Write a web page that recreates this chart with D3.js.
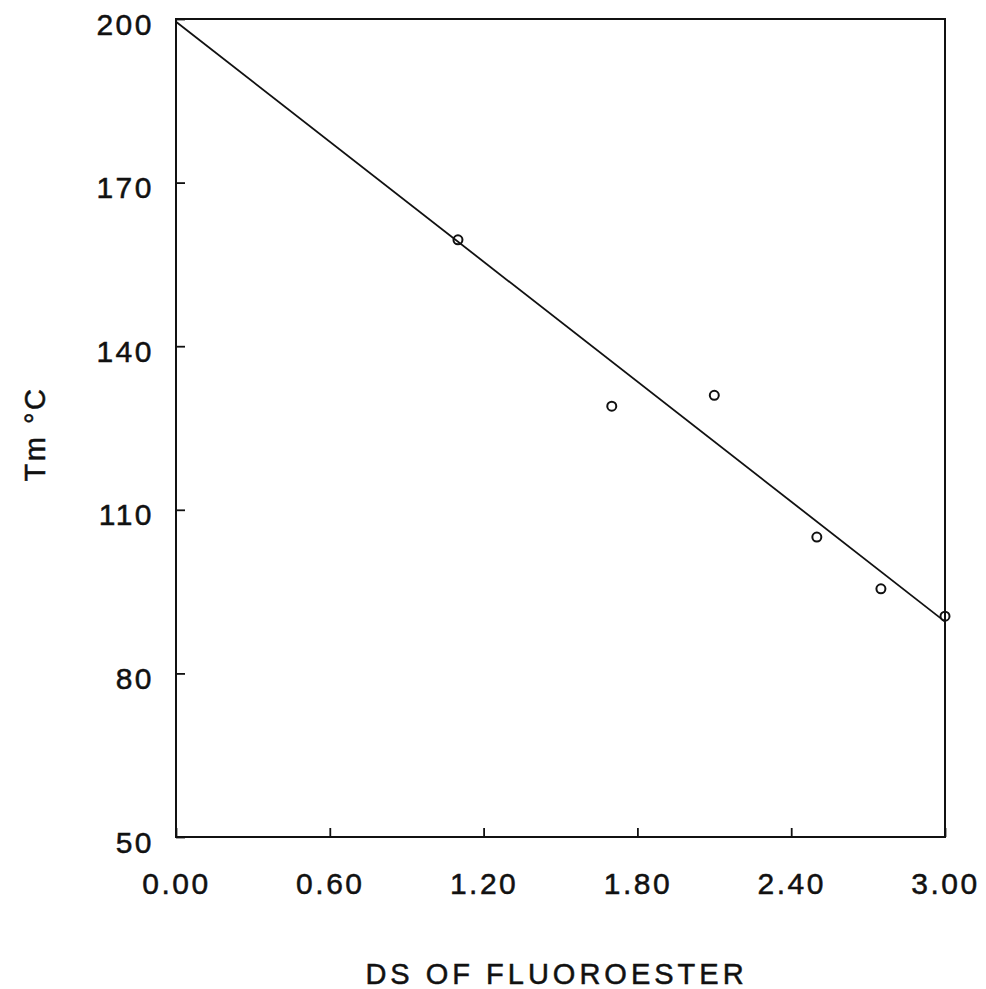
<!DOCTYPE html>
<html>
<head>
<meta charset="utf-8">
<script src="https://cdn.jsdelivr.net/npm/d3@7"></script>
<style>
  body { margin: 0; background: #fff; }
  text { font-family: "Liberation Sans", Arial, sans-serif; fill: #111; stroke: #111; stroke-width: 0.5px; }
</style>
</head>
<body>
<div id="chart"></div>
<script>
var svgWidth = 986;
var svgHeight = 989;

var margin = { top: 19, right: 41, bottom: 152, left: 176 };
var width = svgWidth - margin.left - margin.right;
var height = svgHeight - margin.top - margin.bottom;

// measured points
var dsValues = [1.10, 1.70, 2.10, 2.50, 2.75, 3.00];
var tmValues = [159.5, 129, 131, 105, 95.5, 90.5];

// fitted line end points
var fitDs = [0.00, 3.00];
var fitTm = [199.5, 89.5];

var xTicks = [0, 0.6, 1.2, 1.8, 2.4, 3.0];
var yTicks = [50, 80, 110, 140, 170, 200];

var svg = d3.select("#chart")
    .append("svg")
    .attr("width", svgWidth)
    .attr("height", svgHeight);

var chartGroup = svg.append("g")
    .attr("transform", `translate(${margin.left}, ${margin.top})`);

var xScale = d3.scaleLinear().domain([0, 3]).range([0, width]);
var yScale = d3.scaleLinear().domain([50, 200]).range([height, 0]);

// frame
chartGroup.append("rect")
    .attr("width", width)
    .attr("height", height)
    .attr("fill", "none")
    .attr("stroke", "#111")
    .attr("stroke-width", 2);

var bottomAxis = d3.axisBottom(xScale)
    .tickValues(xTicks)
    .tickSize(-9)
    .tickPadding(36)
    .tickFormat(d3.format(".2f"));

var leftAxis = d3.axisLeft(yScale)
    .tickValues(yTicks)
    .tickSize(-9)
    .tickPadding(22)
    .tickFormat(d3.format("d"));

var xAxisG = chartGroup.append("g")
    .attr("transform", `translate(0, ${height})`)
    .call(bottomAxis);

var yAxisG = chartGroup.append("g")
    .call(leftAxis);

[xAxisG, yAxisG].forEach(function (g) {
    g.select(".domain").remove();
    g.selectAll(".tick line").attr("stroke", "#111").attr("stroke-width", 1.8);
    g.selectAll(".tick text")
        .attr("font-size", "30px")
        .attr("letter-spacing", "2.5px")
        .attr("fill", "#111");
});
xAxisG.selectAll(".tick text").attr("dy", "0.71em");
yAxisG.selectAll(".tick text").attr("dy", "0.5em");

// regression line
var line = d3.line()
    .x(d => xScale(d[0]))
    .y(d => yScale(d[1]));

chartGroup.append("path")
    .datum(d3.zip(fitDs, fitTm))
    .attr("d", line)
    .attr("fill", "none")
    .attr("stroke", "#111")
    .attr("stroke-width", 1.8);

chartGroup.selectAll("circle")
    .data(d3.zip(dsValues, tmValues))
    .enter()
    .append("circle")
    .attr("r", 4.5)
    .attr("cx", d => xScale(d[0]))
    .attr("cy", d => yScale(d[1]))
    .attr("fill", "none")
    .attr("stroke", "#111")
    .attr("stroke-width", 2);

// axis titles
svg.append("text")
    .attr("x", margin.left + width / 2 - 4)
    .attr("y", 984)
    .attr("text-anchor", "middle")
    .attr("font-size", "29px")
    .attr("letter-spacing", "4px")
    .text("DS OF FLUOROESTER");

svg.append("text")
    .attr("transform", `translate(45, ${margin.top + height / 2 + 6}) rotate(-90)`)
    .attr("text-anchor", "middle")
    .attr("font-size", "29px")
    .attr("letter-spacing", "2.5px")
    .text("Tm \u00B0C");
</script>
</body>
</html>
